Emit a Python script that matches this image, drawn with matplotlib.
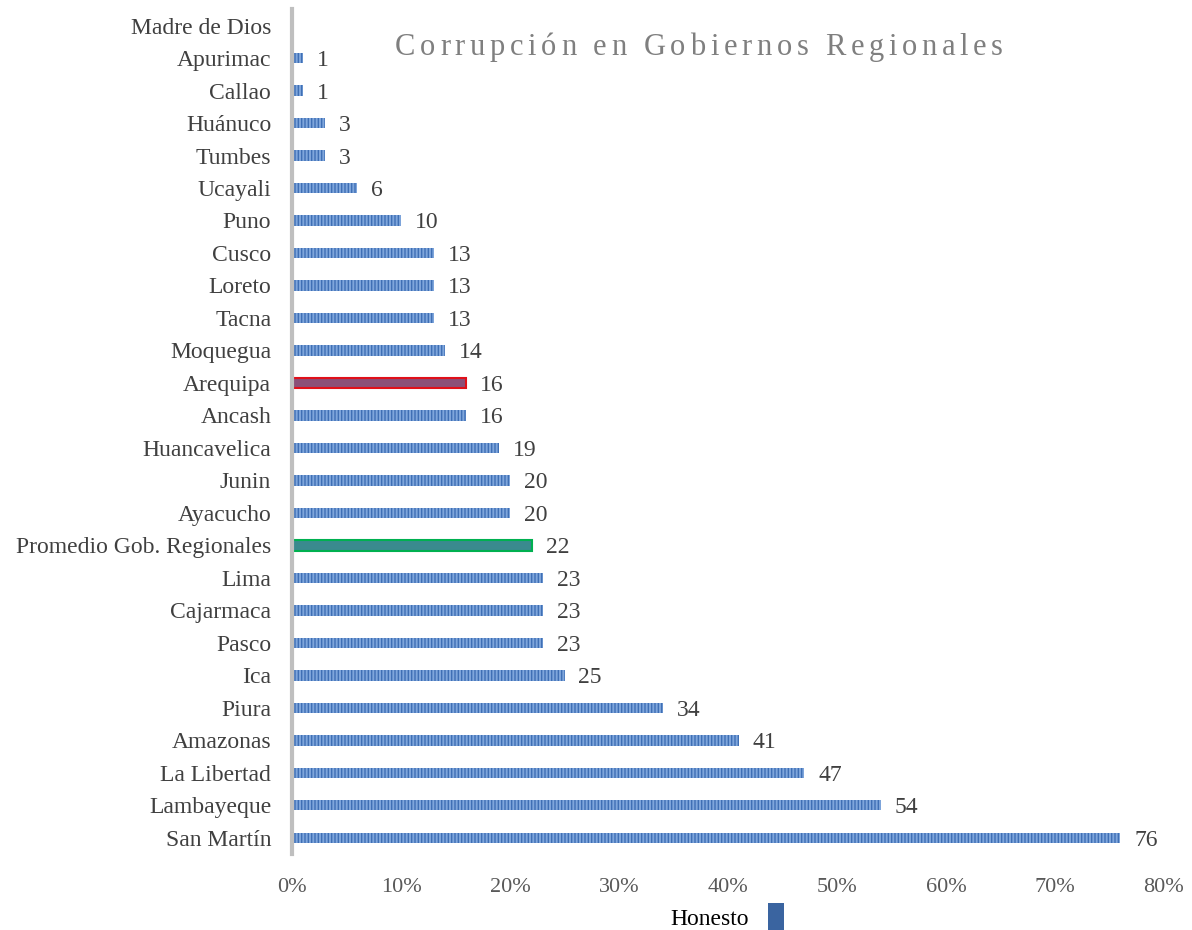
import numpy as np
import matplotlib.pyplot as plt
from matplotlib.patches import Patch
from matplotlib.font_manager import FontProperties
from matplotlib.textpath import TextToPath

plt.rcParams['font.family'] = ['Liberation Serif', 'DejaVu Serif']

regiones = ['Madre de Dios', 'Apurimac', 'Callao', 'Huánuco', 'Tumbes', 'Ucayali',
            'Puno', 'Cusco', 'Loreto', 'Tacna', 'Moquegua', 'Arequipa', 'Ancash',
            'Huancavelica', 'Junin', 'Ayacucho', 'Promedio Gob. Regionales', 'Lima',
            'Cajarmaca', 'Pasco', 'Ica', 'Piura', 'Amazonas', 'La Libertad',
            'Lambayeque', 'San Martín']
honesto = [0, 1, 1, 3, 3, 6, 10, 13, 13, 13, 14, 16, 16, 19, 20, 20, 22, 23,
           23, 23, 25, 34, 41, 47, 54, 76]
xticks = [0, 10, 20, 30, 40, 50, 60, 70, 80]
titulo = 'Corrupción en Gobiernos Regionales'

fig = plt.figure(figsize=(11.92, 9.30), dpi=100)
ax = fig.add_axes([0.245, 0.0817, 0.7315, 0.9083])

y = np.arange(len(regiones))
plt.rcParams['hatch.color'] = '#3F6FB5'
plt.rcParams['hatch.linewidth'] = 1.0
bars = ax.barh(y, honesto, height=0.32, color='#7FA6DC', hatch='|||||',
               edgecolor='#3F6FB5', linewidth=0)

# resaltar Arequipa y el promedio
i_areq = regiones.index('Arequipa')
bars[i_areq].set_hatch(None)
bars[i_areq].set_facecolor('#8B4F78')
bars[i_areq].set_edgecolor('#E0101A')
bars[i_areq].set_linewidth(1.5)
i_prom = regiones.index('Promedio Gob. Regionales')
bars[i_prom].set_hatch(None)
bars[i_prom].set_facecolor('#3A8A8E')
bars[i_prom].set_edgecolor('#00B050')
bars[i_prom].set_linewidth(1.5)

for yi, v in zip(y, honesto):
    if v > 0:
        ax.annotate(str(v), (v, yi), xytext=(10, 0), textcoords='offset points',
                    va='center_baseline', ha='left', fontsize=17, color='#404040')

ax.set_ylim(len(regiones) - 0.5, -0.5)
ax.set_xlim(0, 80)
ax.set_yticks(y)
ax.set_yticklabels(regiones, fontsize=17, color='#404040')
ax.set_xticks(xticks)
ax.set_xticklabels([f'{t}%' for t in xticks], fontsize=16, color='#595959')
ax.tick_params(length=0)
ax.tick_params(axis='y', pad=15)
ax.tick_params(axis='x', pad=17)
for s in ['top', 'right', 'bottom']:
    ax.spines[s].set_visible(False)
ax.spines['left'].set_color('#BFBFBF')
ax.spines['left'].set_linewidth(3)

# titulo con espaciado entre letras (se coloca letra por letra)
prop = FontProperties(family='Liberation Serif', size=22)
t2p = TextToPath()
anchos = [t2p.get_text_width_height_descent(c, prop, ismath=False)[0] * 100 / 72
          for c in titulo]
x0, x1 = 395, 1003
esp = (x1 - x0 - sum(anchos)) / (len(titulo) - 1)
xp = x0
for c, w in zip(titulo, anchos):
    fig.text(xp / 1192, 1 - 55 / 930, c, ha='left', va='baseline',
             fontproperties=prop, color='#7F7F7F')
    xp += w + esp

leg = fig.legend(handles=[Patch(facecolor='#3A64A0', label='Honesto')],
                 loc='center', bbox_to_anchor=(0.61, 0.014), frameon=False,
                 fontsize=17, markerfirst=False, handlelength=0.7, handleheight=1.4)

fig.savefig('out.png', dpi=100)
